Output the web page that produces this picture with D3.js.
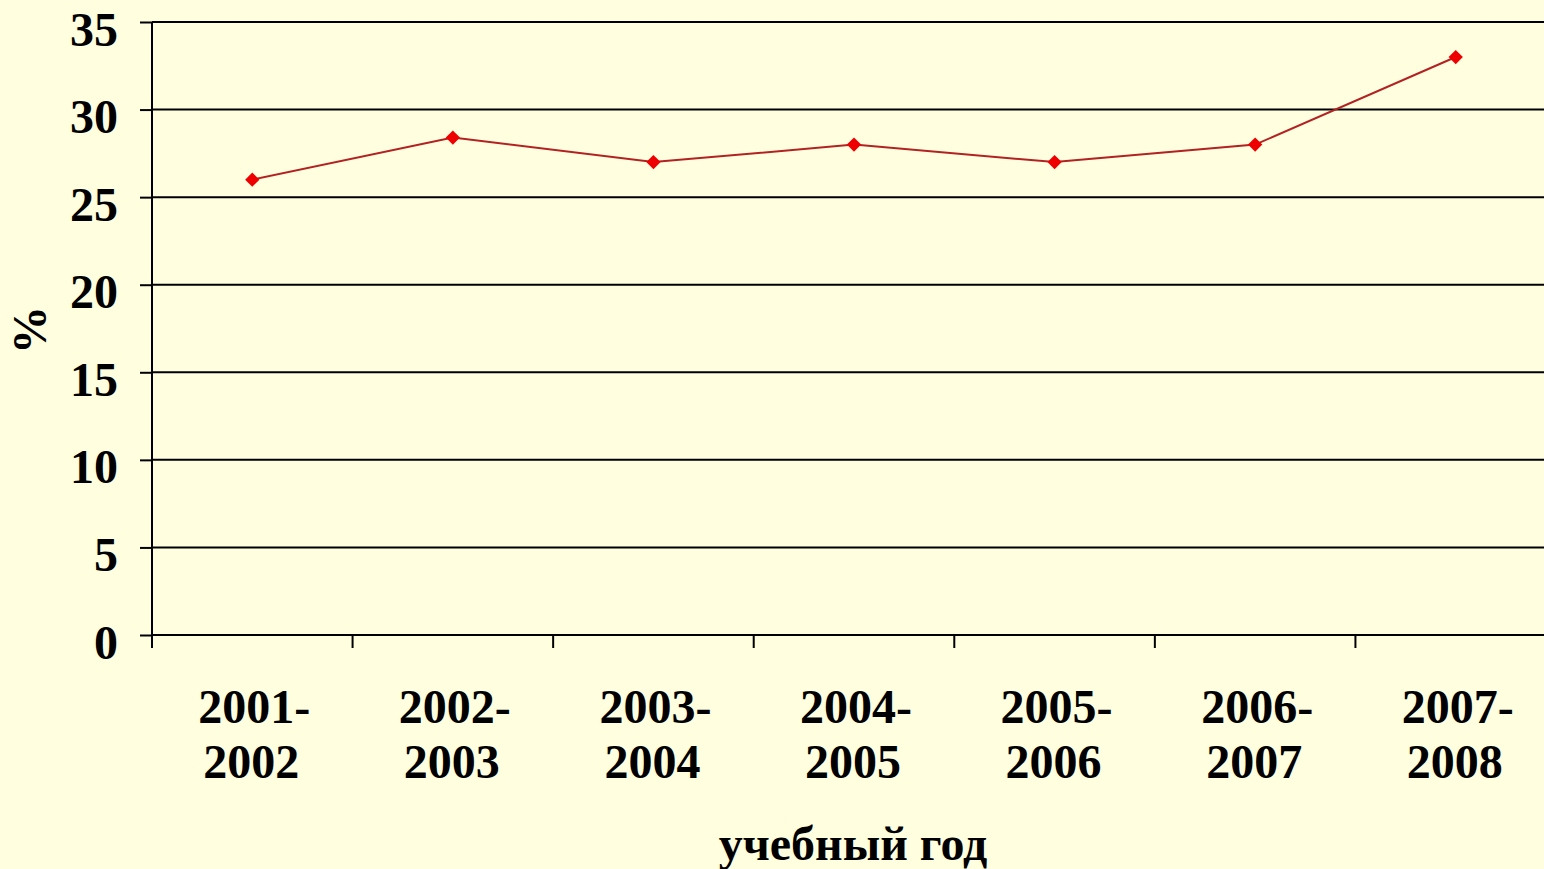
<!DOCTYPE html>
<html>
<head>
<meta charset="utf-8">
<script src="https://cdn.jsdelivr.net/npm/d3@7"></script>
<style>
	html, body { margin: 0; padding: 0; background: #ffffe0; overflow: hidden; }
	svg { display: block; font-family: "Liberation Serif", "Times New Roman", serif; font-weight: bold; }
</style>
</head>
<body>
<div id="chart"></div>
<script>
// data
const years = ['2001-2002', '2002-2003', '2003-2004', '2004-2005', '2005-2006', '2006-2007', '2007-2008'];
const percent = [26, 28.4, 27, 28, 27, 28, 33];
const yTickValues = [0, 5, 10, 15, 20, 25, 30, 35];

const W = 1544, H = 869;
const margin = { top: 22, left: 152, bottom: 234 };
const plotRight = 1556;
const fontSize = '48px';

const svg = d3.select('#chart').append('svg')
	.attr('width', W)
	.attr('height', H);

svg.append('rect')
	.attr('width', W).attr('height', H)
	.attr('fill', '#ffffe0');

const x = d3.scaleBand()
	.domain(years)
	.range([margin.left, plotRight]);

const y = d3.scaleLinear()
	.domain([0, 35])
	.range([H - margin.bottom, margin.top]);

// y axis
const yAxis = svg.append('g')
	.attr('transform', `translate(${margin.left},0)`)
	.call(d3.axisLeft(y)
		.tickValues(yTickValues)
		.tickSize(12)
		.tickPadding(22)
	);
yAxis.select('.domain')
	.attr('d', `M0,${y(35)}V${y(0)}`)
	.attr('stroke', '#000').attr('stroke-width', 2);
yAxis.selectAll('.tick line').attr('stroke', '#000').attr('stroke-width', 2);
yAxis.selectAll('.tick text')
	.attr('fill', '#000')
	.style('font-size', fontSize)
	.style('font-family', '"Liberation Serif", serif')
	.attr('dy', '0.48em'); // labels sit a bit below their gridline

// gridlines
svg.append('g')
	.selectAll('line')
	.data(yTickValues)
	.enter().append('line')
		.attr('x1', margin.left)
		.attr('x2', plotRight)
		.attr('y1', d => y(d))
		.attr('y2', d => y(d))
		.attr('stroke', '#000')
		.attr('stroke-width', 2);

// x axis ticks at band boundaries
svg.append('g')
	.selectAll('line')
	.data(years)
	.enter().append('line')
		.attr('x1', d => x(d))
		.attr('x2', d => x(d))
		.attr('y1', y(0))
		.attr('y2', y(0) + 13)
		.attr('stroke', '#000')
		.attr('stroke-width', 2);

// x labels, two lines
const xLabels = svg.append('g')
	.selectAll('text')
	.data(years)
	.enter().append('text')
		.attr('text-anchor', 'middle')
		.attr('fill', '#000')
		.style('font-size', fontSize);
xLabels.append('tspan')
	.attr('x', d => x(d) + x.bandwidth() / 2 + 2)
	.attr('y', 723)
	.text(d => d.split('-')[0] + '-');
xLabels.append('tspan')
	.attr('x', d => x(d) + x.bandwidth() / 2 - 1)
	.attr('y', 778)
	.text(d => d.split('-')[1]);

// axis titles
svg.append('text')
	.attr('x', 853)
	.attr('y', 860)
	.attr('text-anchor', 'middle')
	.style('font-size', fontSize)
	.text('учебный год');

svg.append('text')
	.attr('transform', 'translate(46,330) rotate(-90)')
	.attr('text-anchor', 'middle')
	.style('font-size', fontSize)
	.text('%');

// the line
const line = d3.line()
	.x((d, i) => x(years[i]) + x.bandwidth() / 2)
	.y(d => y(d));

svg.append('path')
	.datum(percent)
	.attr('d', line)
	.attr('fill', 'none')
	.attr('stroke', '#b22222')
	.attr('stroke-width', 2);

svg.append('g')
	.selectAll('path')
	.data(percent)
	.enter().append('path')
		.attr('d', d3.symbol(d3.symbolDiamond2, 130))
		.attr('transform', (d, i) => `translate(${x(years[i]) + x.bandwidth() / 2},${y(d)})`)
		.attr('fill', '#ee0000');
</script>
</body>
</html>
